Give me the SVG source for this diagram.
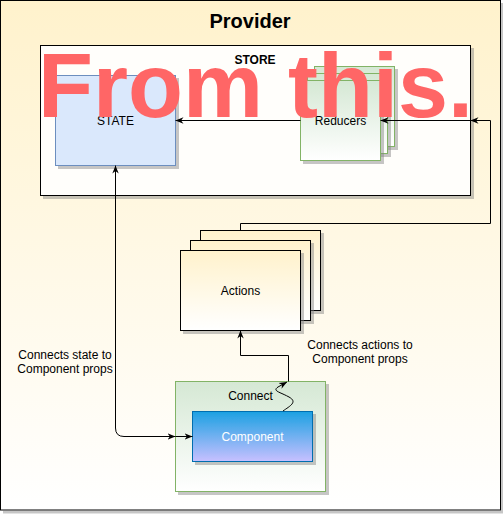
<svg xmlns="http://www.w3.org/2000/svg" width="503" height="514" viewBox="0 0 503 514">
<defs>
<style>
text{font-family:"Liberation Sans",Arial,sans-serif;font-size:12px;fill:#000;text-anchor:middle}
.b{font-weight:bold}
.sh{filter:url(#shadow)}
.edge{fill:none;stroke:#000;stroke-width:1}
</style>
<filter id="shadow" x="-10%" y="-10%" width="130%" height="130%">
<feDropShadow dx="3" dy="3" stdDeviation="0.5" flood-color="#808080" flood-opacity="0.45"/>
</filter>
<linearGradient id="gYel" x1="0" y1="0" x2="0" y2="1"><stop offset="0" stop-color="#fff2cc"/><stop offset="1" stop-color="#ffffff"/></linearGradient>
<linearGradient id="gGrn" x1="0" y1="0" x2="0" y2="1"><stop offset="0" stop-color="#d5e8d4"/><stop offset="1" stop-color="#ffffff"/></linearGradient>
<linearGradient id="gBlue" x1="0" y1="0" x2="0" y2="1"><stop offset="0" stop-color="#1ba1e2"/><stop offset="1" stop-color="#c8c0ff"/></linearGradient>
<marker id="arr" viewBox="0 0 10 10" refX="10" refY="5" markerWidth="8" markerHeight="8" markerUnits="userSpaceOnUse" orient="auto-start-reverse">
<path d="M0,1 L10,5 L0,9 L3,5 z" fill="#000"/>
</marker>
</defs>

<g id="provider">
<rect class="sh" x="0.5" y="0.5" width="500" height="509.5" fill="url(#gYel)" stroke="#000"/>
<text class="b" x="250" y="28" style="font-size:20px">Provider</text>
</g>

<g id="store">
<rect class="sh" x="40.5" y="45.5" width="430" height="150" fill="#fffefb" stroke="#000"/>
<text class="b" x="255" y="64">STORE</text>
</g>

<g id="state">
<rect class="sh" x="55.5" y="75.5" width="120" height="90" fill="#dae8fc" stroke="#6c8ebf"/>
<text x="115.5" y="124.5">STATE</text>
</g>

<g id="reducers">
<rect class="sh" x="314.5" y="66.5" width="80" height="80" fill="url(#gGrn)" stroke="#82b366"/>
<rect class="sh" x="307.5" y="73.5" width="80" height="80" fill="url(#gGrn)" stroke="#82b366"/>
<rect class="sh" x="300.5" y="80.5" width="80" height="80" fill="url(#gGrn)" stroke="#82b366"/>
<text x="340.5" y="124.5">Reducers</text>
</g>

<g id="actions">
<rect class="sh" x="200.5" y="230.5" width="120" height="80" fill="url(#gYel)" stroke="#000"/>
<rect class="sh" x="190.5" y="240.5" width="120" height="80" fill="url(#gYel)" stroke="#000"/>
<rect class="sh" x="180.5" y="250.5" width="120" height="80" fill="url(#gYel)" stroke="#000"/>
<text x="240.5" y="295">Actions</text>
</g>

<g id="connect">
<rect class="sh" x="175.5" y="381.5" width="150" height="110" fill="url(#gGrn)" stroke="#82b366"/>
<text x="250.5" y="400">Connect</text>
</g>

<g id="component">
<rect class="sh" x="192.5" y="411.5" width="120" height="50" fill="url(#gBlue)" stroke="#006eaf"/>
<text x="252.5" y="441" style="fill:#fff">Component</text>
</g>

<g id="connectors">
<path class="edge" d="M300.5,120.5 H175.5" marker-end="url(#arr)"/>
<path class="edge" d="M240.5,230.5 V223.5 H490.5 V120.5 H380.5" marker-end="url(#arr)"/>
<path class="edge" d="M472,120.5 H470.5" marker-end="url(#arr)"/>
<path class="edge" d="M115.5,165.5 V428 Q115.5,436.5 124,436.5 H175.5" marker-start="url(#arr)" marker-end="url(#arr)"/>
<path class="edge" d="M175.5,436.5 H192.5" marker-end="url(#arr)"/>
<path class="edge" d="M288.5,381.5 V355.5 H240.5 V330.5" marker-end="url(#arr)"/>
<path class="edge" d="M283,411 C290,406 298,402 289,397 C280,392 272,391 278,387 L287,382" marker-end="url(#arr)"/>
</g>

<g id="labels">
<text x="65" y="359">Connects state to</text>
<text x="65" y="373">Component props</text>
<text x="360" y="349">Connects actions to</text>
<text x="360" y="363">Component props</text>
</g>

<g id="overlay">
<text class="b" x="255.5" y="117" style="font-size:90px;fill:#ff6666">From this.</text>
</g>
</svg>
